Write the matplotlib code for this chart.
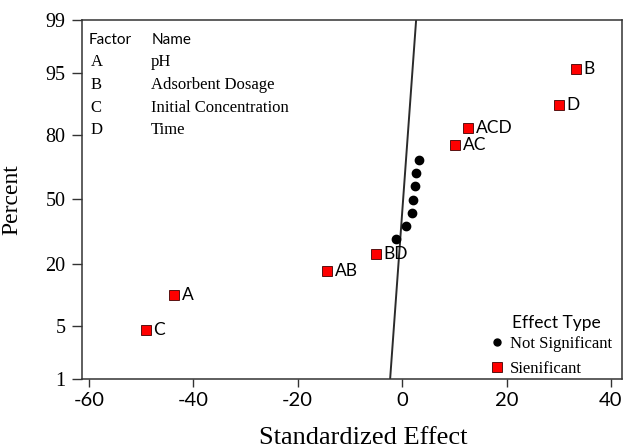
import math
from statistics import NormalDist
import numpy as np
import matplotlib
matplotlib.use("Agg")
import matplotlib.pyplot as plt
from matplotlib.lines import Line2D

# Standardized effects (sorted) and their normal-probability percents
effects = [-49.1, -43.7, -14.4, -5.0, -1.15, 0.83, 1.85, 2.17, 2.43, 2.68, 3.19, 10.2, 12.6, 30.0, 33.3]
percents = [4.5, 10.9, 17.7, 23.9, 30.6, 36.8, 43.2, 49.6, 56.7, 63.2, 69.4, 76.1, 82.3, 89.0, 95.5]
terms = ["C", "A", "AB", "BD", "", "", "", "", "", "", "", "AC", "ACD", "D", "B"]
significant = [True, True, True, True, False, False, False, False, False, False, False, True, True, True, True]

# reference line: effect = mean + sd * z
line_mean = 0.19
line_sd = 1.07

factors = ["A", "B", "C", "D"]
factor_names = ["pH", "Adsorbent Dosage", "Initial Concentration", "Time"]

y_ticks = [1, 5, 20, 50, 80, 95, 99]
x_ticks = [-60, -40, -20, 0, 20, 40]

nd = NormalDist()
_ppf = np.vectorize(nd.inv_cdf, otypes=[float])
_erf = np.vectorize(math.erf, otypes=[float])


def pct_to_z(p):
    p = np.clip(np.asarray(p, dtype=float) / 100.0, 1e-9, 1 - 1e-9)
    return _ppf(p)


def z_to_pct(z):
    z = np.asarray(z, dtype=float)
    return 50.0 * (1.0 + _erf(z / math.sqrt(2.0)))


plt.rcParams["axes.unicode_minus"] = False
serif = "Liberation Serif"
sans = "Lato"
edge = "#333333"

fig = plt.figure(figsize=(6.31, 4.48), dpi=100)
ax = fig.add_axes([0.13, 0.154, 0.8557, 0.8014])
ax.set_yscale("function", functions=(pct_to_z, z_to_pct))

eff = np.array(effects)
pct = np.array(percents)
sig = np.array(significant)

# fitted line across the full percent range
line_pct = np.array([1.0, 99.0])
ax.plot(line_mean + line_sd * pct_to_z(line_pct), line_pct, color="#2b2b2b", lw=1.4, zorder=2)

ax.plot(eff[~sig], pct[~sig], "o", color="black", ms=6, zorder=3)
ax.plot(eff[sig], pct[sig], "s", color="#ff0000", mec="#400000", mew=0.6, ms=7, zorder=3)

for x, p, t in zip(effects, percents, terms):
    if t:
        ax.annotate(t, (x, p), xytext=(5.5, 0), textcoords="offset points",
                    va="center", ha="left", fontsize=12.5, family=sans, color="black")

ax.set_xlim(-61.3, 42.1)
ax.set_ylim(1, 99)
ax.set_yticks(y_ticks)
ax.set_yticklabels([str(v) for v in y_ticks])
ax.set_xticks(x_ticks)
ax.minorticks_off()

for s in ax.spines.values():
    s.set_color(edge)
    s.set_linewidth(1.1)
ax.tick_params(axis="both", direction="out", width=1.0, color=edge, labelcolor="black")
ax.tick_params(axis="y", length=7, pad=5, labelsize=14.5)
ax.tick_params(axis="x", length=6, pad=3, labelsize=14.5)
for lab in ax.get_yticklabels():
    lab.set_family(serif)
for lab in ax.get_xticklabels():
    lab.set_family(sans)

ax.set_xlabel("Standardized Effect", family=serif, fontsize=19)
ax.set_ylabel("Percent", family=serif, fontsize=17)
ax.xaxis.set_label_coords(0.52, -0.135)
ax.yaxis.set_label_coords(-0.11, 0.5)

# factor key in the upper left
ax.text(0.013, 0.945, "Factor", transform=ax.transAxes, family=sans, fontsize=11, va="center")
ax.text(0.128, 0.945, "Name", transform=ax.transAxes, family=sans, fontsize=11, va="center")
for i, (f, n) in enumerate(zip(factors, factor_names)):
    yy = 0.945 - (i + 1) * 0.063
    ax.text(0.016, yy, f, transform=ax.transAxes, family=serif, fontsize=12, va="center")
    ax.text(0.128, yy, n, transform=ax.transAxes, family=serif, fontsize=12, va="center")

# effect type key
ax.text(0.797, 0.157, "Effect Type", transform=ax.transAxes, family=sans, fontsize=12.5, va="center")
handles = [
    Line2D([], [], ls="none", marker="o", color="black", ms=5),
    Line2D([], [], ls="none", marker="s", color="#ff0000", mec="#400000", mew=0.6, ms=6.5),
]
ax.legend(handles, ["Not Significant", "Sienificant"], loc="lower right",
          bbox_to_anchor=(1.01, -0.035), frameon=False, handletextpad=0.3,
          handlelength=1.0, labelspacing=0.5, prop={"family": serif, "size": 12})

fig.savefig("out.png", dpi=100)
